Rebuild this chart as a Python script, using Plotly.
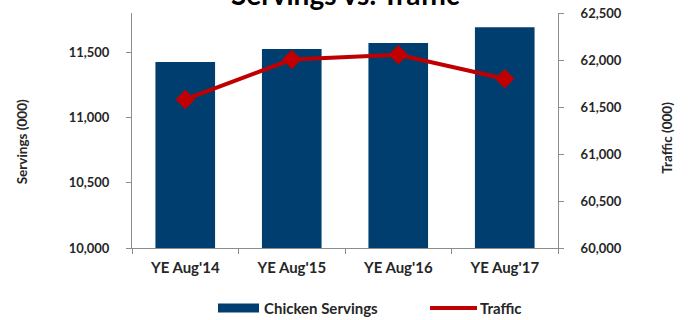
import plotly.graph_objects as go

# Annual chicken servings vs. restaurant traffic (thousands)
periods = ["YE Aug'14", "YE Aug'15", "YE Aug'16", "YE Aug'17"]
servings = [11425, 11525, 11570, 11690]
traffic = [61580, 62005, 62055, 61800]

servings_ticks = [10000, 10500, 11000, 11500]
traffic_ticks = [60000, 60500, 61000, 61500, 62000, 62500]

NAVY = "#003E70"
RED = "#C00000"
TEXT = "#262626"
AXIS = "#8C8C8C"
FONT = "Lato"

fig = go.Figure()
fig.add_trace(go.Bar(
    x=periods, y=servings, name="Chicken Servings",
    marker=dict(color=NAVY, line=dict(width=0)),
    yaxis="y", showlegend=False,
))
fig.add_trace(go.Scatter(
    x=periods, y=traffic, name="Traffic", mode="lines+markers",
    line=dict(color=RED, width=4),
    marker=dict(symbol="diamond", size=15, color=RED),
    yaxis="y2", showlegend=False,
))

num_font = dict(family=FONT, size=13, color=TEXT, weight="bold")
cat_font = dict(family=FONT, size=15, color=TEXT, weight="bold")

fig.update_layout(
    width=690, height=320,
    margin=dict(l=132, r=132, t=13, b=72),
    paper_bgcolor="white", plot_bgcolor="white",
    bargap=0.44,
    xaxis=dict(
        showline=True, linecolor=AXIS, linewidth=1,
        ticks="outside", tickson="boundaries", ticklen=5, tickcolor=AXIS,
        tickfont=cat_font, showgrid=False, automargin=False,
        ticklabelstandoff=6,
    ),
    yaxis=dict(
        range=[10000, 11800], tickvals=servings_ticks, tickformat=",",
        showline=True, linecolor=AXIS, linewidth=1,
        ticks="outside", ticklen=5, tickcolor=AXIS,
        tickfont=num_font, showgrid=False, zeroline=False,
        ticklabelstandoff=14, automargin=False,
    ),
    yaxis2=dict(
        range=[60000, 62500], tickvals=traffic_ticks, tickformat=",",
        overlaying="y", side="right",
        showline=True, linecolor=AXIS, linewidth=1,
        ticks="outside", ticklen=5, tickcolor=AXIS,
        tickfont=num_font, showgrid=False, zeroline=False,
        ticklabelstandoff=14, automargin=False,
    ),
    xaxis2=dict(range=[0, 1], overlaying="x", visible=False, anchor="y3",
                automargin=False),
    yaxis3=dict(range=[0, 1], overlaying="y", visible=False, anchor="x2",
                automargin=False),
)

# Chart title, partly clipped by the top edge
fig.add_annotation(
    text="Servings vs. Traffic", xref="paper", yref="paper",
    x=0.5, y=1, xanchor="center", yanchor="bottom", yshift=0,
    showarrow=False, font=dict(family=FONT, size=28, color="#000000", weight="bold"),
)

# Axis titles
fig.add_annotation(
    text="Servings (000)", xref="paper", yref="paper",
    x=-0.258, y=0.45, xanchor="center", yanchor="middle",
    textangle=-90, showarrow=False,
    font=dict(family=FONT, size=13.5, color=TEXT, weight="bold"),
)
fig.add_annotation(
    text="Traffic (000)", xref="paper", yref="paper",
    x=1.254, y=0.47, xanchor="center", yanchor="middle",
    textangle=-90, showarrow=False,
    font=dict(family=FONT, size=13.5, color=TEXT, weight="bold"),
)

# Legend row
legend_y = -0.255
fig.add_shape(type="rect", xref="paper", yref="paper",
              x0=(218 - 132) / 426, x1=(259 - 132) / 426,
              y0=legend_y - 0.019, y1=legend_y + 0.019,
              fillcolor=NAVY, line=dict(width=0))
fig.add_annotation(text="Chicken Servings", xref="paper", yref="paper",
                   x=(262 - 132) / 426, y=legend_y, xanchor="left", yanchor="middle",
                   showarrow=False,
                   font=dict(family=FONT, size=15, color=TEXT, weight="bold"))
fig.add_shape(type="line", xref="paper", yref="paper",
              x0=(430 - 132) / 426, x1=(477 - 132) / 426,
              y0=legend_y, y1=legend_y, line=dict(color=RED, width=4))
fig.add_trace(go.Scatter(
    x=[(453.5 - 132) / 426], y=[legend_y], xaxis="x2", yaxis="y3",
    mode="markers", marker=dict(symbol="diamond", size=11, color=RED),
    showlegend=False, hoverinfo="skip", cliponaxis=False,
))
fig.add_annotation(text="Traffic", xref="paper", yref="paper",
                   x=(478 - 132) / 426, y=legend_y, xanchor="left", yanchor="middle",
                   showarrow=False,
                   font=dict(family=FONT, size=15, color=TEXT, weight="bold"))

fig.write_html("out.html")
